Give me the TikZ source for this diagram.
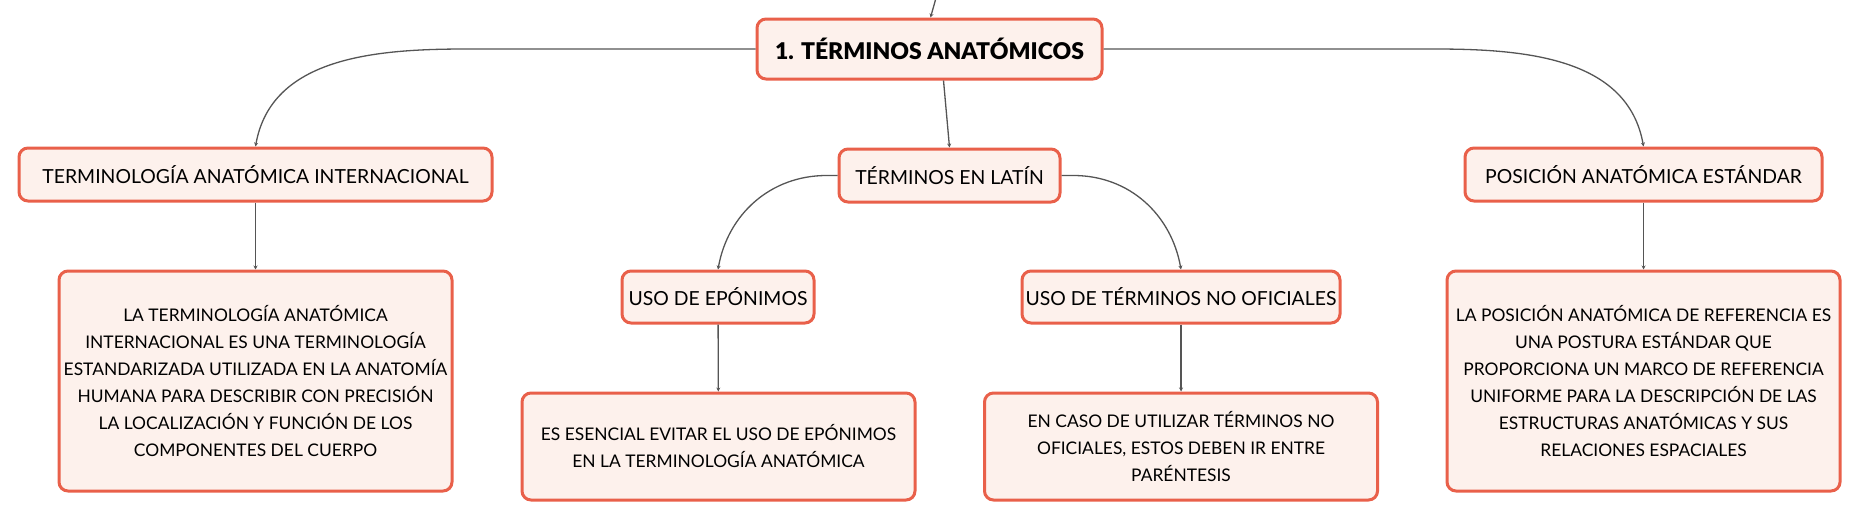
\documentclass[tikz,border=0pt]{standalone}
\usepackage{fontspec}
\setmainfont{Lato}
\newfontfamily\gruesa{Lato Black}
\usetikzlibrary{arrows.meta}
\definecolor{borde}{HTML}{E9604A}
\definecolor{relleno}{HTML}{FDF1EC}
\definecolor{linea}{HTML}{555555}

\begin{document}
\begin{tikzpicture}[x=0.5pt, y=0.5pt,
    caja/.style={draw=borde, fill=relleno, line width=1.5pt, rounded corners=4.5pt,
                 align=center, inner sep=0pt, font=\fontsize{9.7}{12}\selectfont},
    raiz/.style={caja, minimum height=30pt, font=\fontsize{11.5}{14}\selectfont\gruesa},
    rama/.style={caja, minimum height=26.5pt},
    texto/.style={caja, minimum width=196.5pt, font=\fontsize{8.7}{13.5}\selectfont},
    enlace/.style={draw=linea, line width=0.65pt, -{Stealth[length=2pt,width=2pt]}}]
\useasboundingbox (0,0) rectangle (1861,-520);

\node[raiz, minimum width=172.5pt] (top) at (929.5,-49) {1. TÉRMINOS ANATÓMICOS};

\node[rama, minimum width=236.5pt] (tai) at (255.5,-174.5) {TERMINOLOGÍA ANATÓMICA INTERNACIONAL};
\node[rama, minimum width=110.5pt] (lat) at (949.5,-175.5) {TÉRMINOS EN LATÍN};
\node[rama, minimum width=178.5pt] (pos) at (1643.5,-174.5) {POSICIÓN ANATÓMICA ESTÁNDAR};

\node[rama, minimum width=96pt, minimum height=26pt] (epo) at (718,-297) {USO DE EPÓNIMOS};
\node[rama, minimum width=159pt, minimum height=26pt] (nof) at (1181,-297) {USO DE TÉRMINOS NO OFICIALES};

\node[texto, minimum height=110pt] (taid) at (255.5,-381)
  {LA TERMINOLOGÍA ANATÓMICA\\ INTERNACIONAL ES UNA TERMINOLOGÍA\\ ESTANDARIZADA UTILIZADA EN LA ANATOMÍA\\
   HUMANA PARA DESCRIBIR CON PRECISIÓN\\ LA LOCALIZACIÓN Y FUNCIÓN DE LOS\\ COMPONENTES DEL CUERPO};
\node[texto, minimum height=53.5pt] (epod) at (718.5,-446.5)
  {ES ESENCIAL EVITAR EL USO DE EPÓNIMOS\\ EN LA TERMINOLOGÍA ANATÓMICA};
\node[texto, minimum height=53.5pt] (nofd) at (1181,-446.5)
  {EN CASO DE UTILIZAR TÉRMINOS NO\\ OFICIALES, ESTOS DEBEN IR ENTRE\\ PARÉNTESIS};
\node[texto, minimum height=110pt] (posd) at (1643.5,-381)
  {LA POSICIÓN ANATÓMICA DE REFERENCIA ES\\ UNA POSTURA ESTÁNDAR QUE\\ PROPORCIONA UN MARCO DE REFERENCIA\\
   UNIFORME PARA LA DESCRIPCIÓN DE LAS\\ ESTRUCTURAS ANATÓMICAS Y SUS\\ RELACIONES ESPACIALES};

\coordinate (arriba) at (936,2);
\draw[enlace] (arriba) -- ([xshift=0.5pt]top.north);
\draw[enlace] (top.west) -- ++(-289,0) to[out=180, in=80] (tai.north);
\draw[enlace] ([xshift=7pt]top.south) -- (lat.north);
\draw[enlace] (top.east) -- ++(331,0) to[out=0, in=100] (pos.north);
\draw[enlace] (lat.west) -- ++(-11,0) to[out=180, in=80] (epo.north);
\draw[enlace] (lat.east) -- ++(12,0) to[out=0, in=100] (nof.north);
\draw[enlace] (tai) -- (taid);
\draw[enlace] (epo) -- (epod);
\draw[enlace] (nof) -- (nofd);
\draw[enlace] (pos) -- (posd);
\end{tikzpicture}
\end{document}
